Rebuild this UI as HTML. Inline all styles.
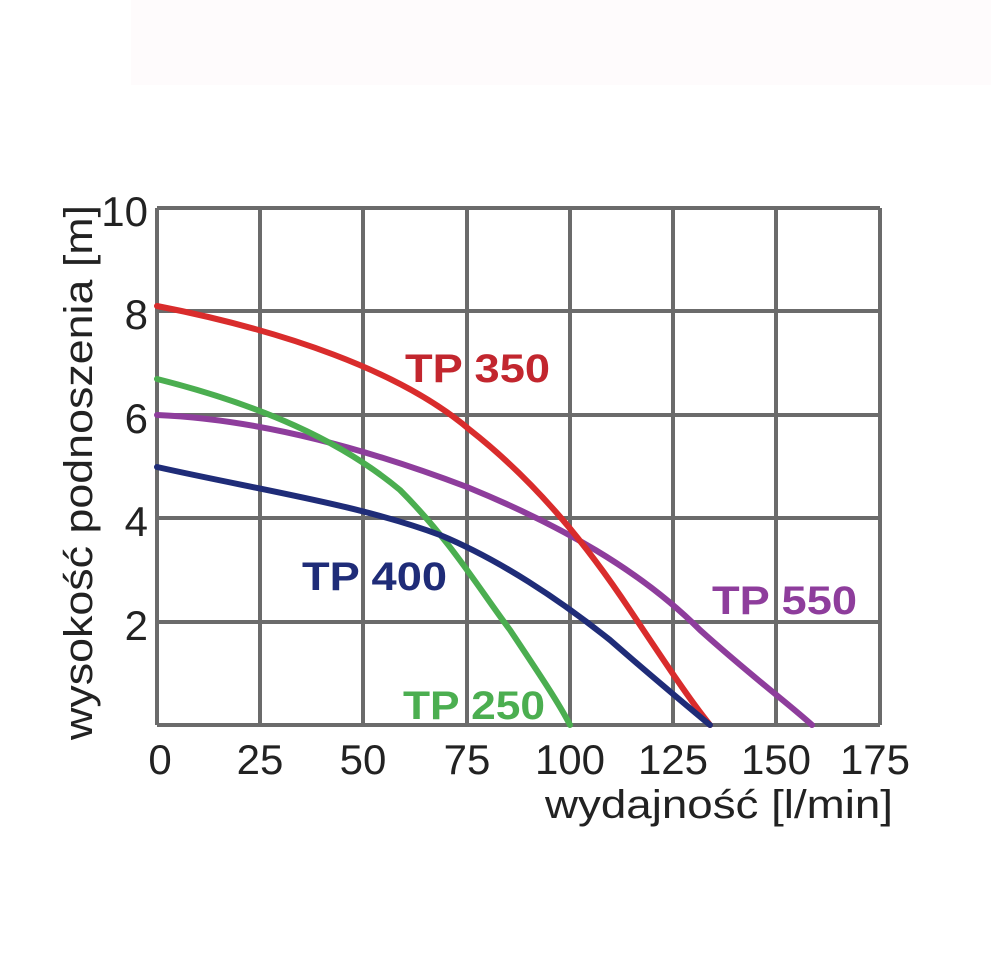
<!DOCTYPE html>
<html><head><meta charset="utf-8"><style>
html,body{margin:0;padding:0;background:#fff;}
svg{display:block;}
</style></head><body>
<svg width="991" height="977" viewBox="0 0 991 977" xmlns="http://www.w3.org/2000/svg" font-family="Liberation Sans, Arial, sans-serif">
<rect x="131" y="0" width="860" height="85" fill="#fefbfc"/>
<g stroke="#6b6b6b" stroke-width="4" fill="none">
<line x1="157" y1="208" x2="880" y2="208"/>
<line x1="157" y1="311" x2="880" y2="311"/>
<line x1="157" y1="415" x2="880" y2="415"/>
<line x1="157" y1="518" x2="880" y2="518"/>
<line x1="157" y1="622" x2="880" y2="622"/>
<line x1="157" y1="725" x2="880" y2="725"/>
<line x1="157" y1="208" x2="157" y2="725"/>
<line x1="260" y1="208" x2="260" y2="725"/>
<line x1="363" y1="208" x2="363" y2="725"/>
<line x1="467" y1="208" x2="467" y2="725"/>
<line x1="570" y1="208" x2="570" y2="725"/>
<line x1="673" y1="208" x2="673" y2="725"/>
<line x1="776" y1="208" x2="776" y2="725"/>
<line x1="880" y1="208" x2="880" y2="725"/>
</g>
<g fill="none" stroke-width="6" stroke-linecap="round" stroke-linejoin="round">
<path stroke="#8e3d9c" d="M157,415 C230,418 330,435 467,487 C560,525 640,570 700,630 C750,675 790,705 812,725"/>
<path stroke="#4bae50" d="M157,379 C260,405 340,440 400,490 C450,540 480,590 510,630 C540,675 560,705 570,725"/>
<path stroke="#d92c2c" d="M157,306 C280,330 400,370 470,430 C540,485 590,550 630,610 C670,670 690,700 710,725"/>
<path stroke="#1f2c78" d="M157,467 C260,490 360,505 440,535 C500,560 560,600 610,640 C650,675 680,700 710,725"/>
</g>
<g font-weight="bold" font-size="40">
<text x="405" y="382" fill="#c2262e" textLength="145" lengthAdjust="spacingAndGlyphs">TP 350</text>
<text x="302" y="590" fill="#1f2c78" textLength="145" lengthAdjust="spacingAndGlyphs">TP 400</text>
<text x="712" y="614" fill="#8e3d9c" textLength="145" lengthAdjust="spacingAndGlyphs">TP 550</text>
<text x="403" y="719" fill="#4bae50" textLength="142" lengthAdjust="spacingAndGlyphs">TP 250</text>
</g>
<g font-size="42" fill="#222">
<text x="148" y="226" text-anchor="end">10</text>
<text x="148" y="329" text-anchor="end">8</text>
<text x="148" y="433" text-anchor="end">6</text>
<text x="148" y="536" text-anchor="end">4</text>
<text x="148" y="640" text-anchor="end">2</text>
<g text-anchor="middle">
<text x="160" y="774">0</text>
<text x="260" y="774">25</text>
<text x="363" y="774">50</text>
<text x="467" y="774">75</text>
<text x="570" y="774">100</text>
<text x="673" y="774">125</text>
<text x="776" y="774">150</text>
<text x="875" y="774">175</text>
</g>
<text x="545" y="818" font-size="40" textLength="348" lengthAdjust="spacingAndGlyphs">wydajność  [l/min]</text>
<text transform="translate(92,740) rotate(-90)" font-size="40" textLength="535" lengthAdjust="spacingAndGlyphs">wysokość podnoszenia [m]</text>
</g>
</svg>
</body></html>
